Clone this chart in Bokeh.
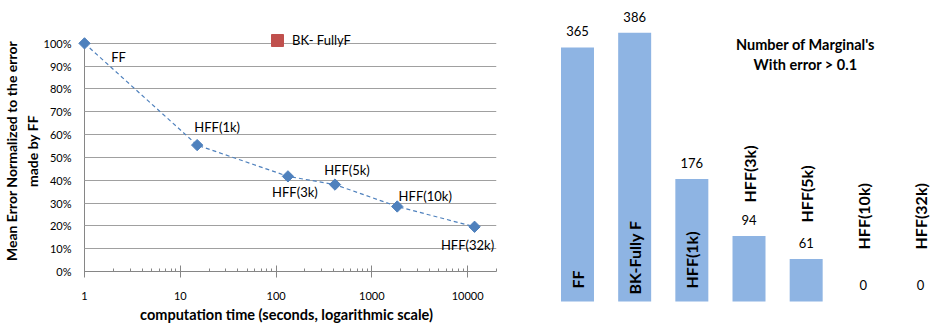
import numpy as np
from bokeh.plotting import figure
from bokeh.layouts import row
from bokeh.models import (Range1d, FixedTicker, LogTicker, NumeralTickFormatter,
                          ColumnDataSource, Label)
from bokeh.core.properties import value
from bokeh.embed import file_html
from bokeh.resources import INLINE

# ---------------- data ----------------
point_names = ["FF", "HFF(1k)", "HFF(3k)", "HFF(5k)", "HFF(10k)", "HFF(32k)"]
comp_time = [1, 15, 133, 412, 1840, 11800]
norm_error = [1.00, 0.554, 0.417, 0.381, 0.285, 0.196]
y_ticks = [0.0, 0.1, 0.2, 0.3, 0.4, 0.5, 0.6, 0.7, 0.8, 0.9, 1.0]
x_min, x_max = 1, 20000
y_min, y_max = 0.0, 1.0

# BK- FullyF series: shown only in the legend (no plotted point in the chart)
bk_time = [float("nan")]
bk_error = [float("nan")]

bar_cats = ["FF", "BK-Fully F", "HFF(1k)", "HFF(3k)", "HFF(5k)", "HFF(10k)", "HFF(32k)"]
bar_counts = [365, 386, 176, 94, 61, 0, 0]

FONT = "Lato"
BLUE = "#4F81BD"
RED = "#C0504D"
BAR = "#8EB4E3"
GRID = "#A0A0A0"
AXIS = "#868686"
H = 325

# ---------------- left chart ----------------
# frame slightly larger than the plot area so that markers/legend are not clipped
p1 = figure(width=538, height=H, x_axis_type="log",
            x_range=Range1d(0.825, x_max), y_range=Range1d(y_min, 1.0563),
            output_backend="svg", toolbar_location=None,
            min_border_left=76, min_border_right=42,
            min_border_top=30, min_border_bottom=51)
p1.frame_align = False
p1.outline_line_color = None

# horizontal grid, limited to the plot area
p1.ygrid.ticker = FixedTicker(ticks=y_ticks)
p1.ygrid.grid_line_color = GRID
p1.ygrid.cross_bounds = (x_min, x_max)
# vertical axis line at x = 1 (drawn by the x grid)
p1.xgrid.ticker = FixedTicker(ticks=[x_min])
p1.xgrid.grid_line_color = AXIS
p1.xgrid.cross_bounds = (y_min, y_max)

ya = p1.yaxis[0]
ya.ticker = FixedTicker(ticks=y_ticks)
ya.formatter = NumeralTickFormatter(format="0%")
ya.axis_line_color = None
ya.major_tick_line_color = None
ya.minor_tick_line_color = None
ya.major_tick_out = 0
ya.major_tick_in = 0
ya.minor_tick_out = 0
ya.major_label_standoff = 5
ya.major_label_text_font = FONT
ya.major_label_text_font_size = "11px"
ya.major_label_text_color = "#000000"
ya.axis_label = "Mean Error Normalized to the error\nmade by FF"
ya.axis_label_text_font = FONT
ya.axis_label_text_font_style = "bold"
ya.axis_label_text_font_size = "14px"
ya.axis_label_text_color = "#000000"
ya.axis_label_standoff = 0

xa = p1.xaxis[0]
xa.ticker = LogTicker(num_minor_ticks=10)
xa.formatter = NumeralTickFormatter(format="0")
xa.bounds = (x_min, x_max)
xa.axis_line_color = AXIS
xa.major_tick_line_color = AXIS
xa.minor_tick_line_color = AXIS
xa.major_tick_in = 6
xa.major_tick_out = 6
xa.minor_tick_in = 3
xa.minor_tick_out = 0
xa.major_label_standoff = 14
xa.major_label_text_font = FONT
xa.major_label_text_font_size = "11px"
xa.major_label_text_color = "#000000"
xa.axis_label = "computation time (seconds, logarithmic scale)"
xa.axis_label_text_font = FONT
xa.axis_label_text_font_style = "bold"
xa.axis_label_text_font_size = "14.5px"
xa.axis_label_text_color = "#000000"
xa.axis_label_standoff = 3

label_dx = [34, 20, 7, 12, 28, -7]
label_dy = [14, -18, 16, -15, -10, 18]
src1 = ColumnDataSource(dict(x=comp_time, y=norm_error, name=point_names,
                             dx=label_dx, dy=label_dy))
p1.line("x", "y", source=src1, line_color=BLUE, line_width=1.2,
        line_dash="4 3")
p1.scatter("x", "y", source=src1, marker="square", angle=np.pi / 4, size=8,
           fill_color=BLUE, line_color=BLUE)
p1.text("x", "y", text="name", source=src1, x_offset="dx", y_offset="dy",
        text_align="center", text_baseline="middle",
        text_font=value(FONT), text_font_size="13px", text_color="#000000")

bk_src = ColumnDataSource(dict(x=bk_time, y=bk_error))
p1.scatter("x", "y", source=bk_src, marker="square", size=12,
           fill_color=RED, line_color=RED, legend_label="BK- FullyF")
lg = p1.legend[0]
lg.location = (186, 216)
lg.glyph_width = 30
lg.glyph_height = 30
lg.label_height = 16
lg.label_standoff = 0
lg.padding = 0
lg.margin = 0
lg.spacing = 0
lg.border_line_color = None
lg.background_fill_alpha = 0
lg.label_text_font = FONT
lg.label_text_font_size = "13px"
lg.label_text_color = "#000000"
lg.label_text_baseline = "middle"

# ---------------- right chart ----------------
idx = list(range(len(bar_cats)))
p2 = figure(width=935 - 538, height=H, x_range=Range1d(-0.682, 6.262),
            y_range=Range1d(-34.5, 432.5), output_backend="svg",
            toolbar_location=None, min_border=0)
p2.frame_align = False
p2.outline_line_color = None
p2.axis.visible = False
p2.grid.visible = False

cat_dy = [-13, -7, -13, -99, -79, -52, -52]
src2 = ColumnDataSource(dict(x=idx, top=bar_counts, cat=bar_cats,
                             txt=[str(v) for v in bar_counts], zero=[0] * len(idx),
                             cdy=cat_dy))
p2.vbar(x="x", top="top", bottom=0, width=0.577, source=src2,
        fill_color=BAR, line_color=None)
p2.text("x", "top", text="txt", source=src2, y_offset=-16,
        text_align="center", text_baseline="middle",
        text_font=value(FONT), text_font_size="13px", text_color="#000000")
p2.text("x", "zero", text="cat", source=src2, y_offset="cdy", angle=np.pi / 2,
        text_align="left", text_baseline="middle",
        text_font=value(FONT), text_font_size="16px", text_font_style="bold",
        text_color="#000000")

p2.add_layout(Label(x=267, y=271, x_units="screen", y_units="screen",
                    text="Number of Marginal's\nWith error > 0.1",
                    text_align="center", text_baseline="middle",
                    text_font=FONT, text_font_size="14.5px",
                    text_font_style="bold", text_color="#000000"))

layout = row(p1, p2)
open("out.html", "w").write(file_html(layout, INLINE))
